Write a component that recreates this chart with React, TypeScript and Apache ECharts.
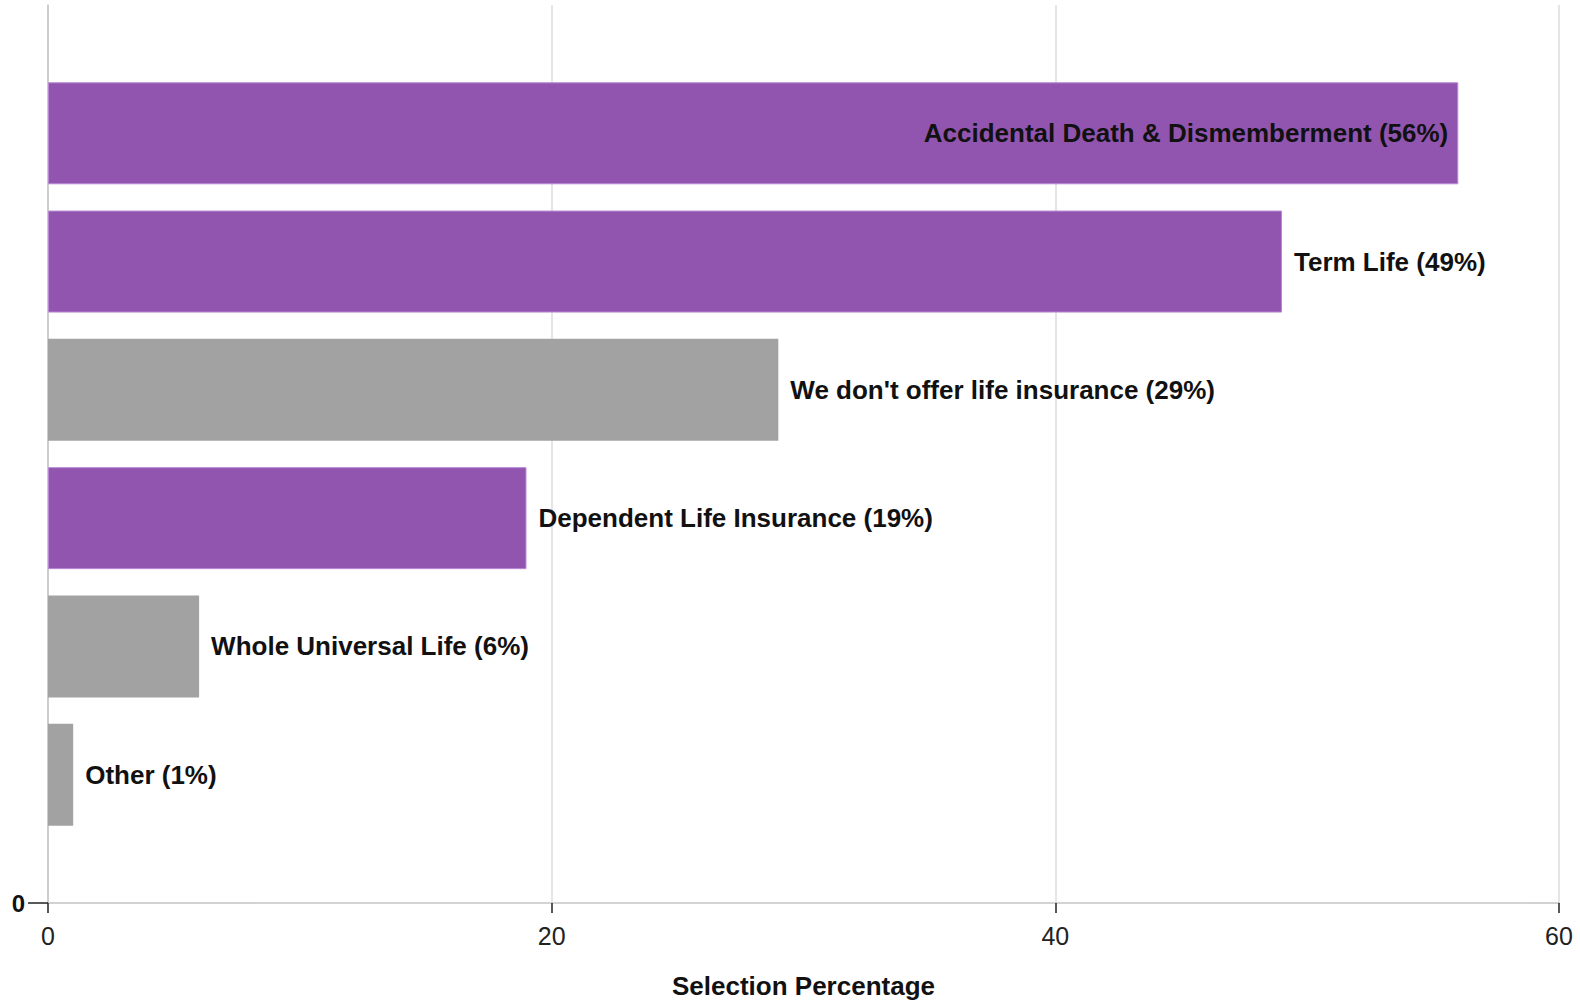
import React, { useEffect, useRef } from "react";
import * as echarts from "echarts";

const categories = [
  "Accidental Death & Dismemberment",
  "Term Life",
  "We don't offer life insurance",
  "Dependent Life Insurance",
  "Whole Universal Life",
  "Other",
];
const values = [56, 49, 29, 19, 6, 1];
const highlighted = [true, true, false, true, false, false];
const labelInside = [true, false, false, false, false, false];
// slot positions on the vertical axis (0 at bottom, 7 at top)
const slots = [6, 5, 4, 3, 2, 1];
const yTicks = ["0", "1", "2", "3", "4", "5", "6", "7"];
const xTicks = [0, 20, 40, 60];

const PURPLE = "#9155B0";
const GREY = "#A2A2A2";
const FONT = "'Liberation Sans', Arial, sans-serif";

export default function App() {
  const ref = useRef<HTMLDivElement>(null);
  useEffect(() => {
    if (!ref.current) return;
    const chart = echarts.init(ref.current, undefined, { renderer: "svg" });
    const data = categories.map((c, i) => ({
      name: c,
      value: [values[i], slots[i]],
      itemStyle: {
        color: highlighted[i] ? PURPLE : GREY,
        borderColor: highlighted[i] ? "#B888D4" : GREY,
        borderWidth: highlighted[i] ? 1 : 0,
      },
      label: {
        position: labelInside[i] ? "insideRight" : "right",
        distance: labelInside[i] ? 10 : 12,
      },
    }));
    chart.setOption({
      animation: false,
      backgroundColor: "#ffffff",
      textStyle: { fontFamily: FONT },
      grid: { left: 48, right: 21, top: 5, bottom: 100, containLabel: false },
      xAxis: {
        type: "value",
        min: 0,
        max: xTicks[xTicks.length - 1],
        interval: xTicks[1] - xTicks[0],
        name: "Selection Percentage",
        nameLocation: "middle",
        nameGap: 70,
        nameTextStyle: { fontFamily: FONT, fontSize: 26, fontWeight: "bold", color: "#111" },
        axisLine: { show: true, lineStyle: { color: "#c4c4c4", width: 1.5 } },
        axisTick: { show: true, length: 10, lineStyle: { color: "#222", width: 1.5 } },
        axisLabel: { fontFamily: FONT, fontSize: 25, color: "#222", margin: 20 },
        splitLine: { show: true, lineStyle: { color: "#dcdcdc", width: 1.5 } },
      },
      yAxis: {
        type: "category",
        data: yTicks,
        boundaryGap: false,
        axisLine: { show: true, lineStyle: { color: "#c4c4c4", width: 1.5 } },
        axisTick: {
          show: true,
          length: 20,
          interval: (idx: number) => idx === 0,
          lineStyle: { color: "#222", width: 1.5 },
        },
        axisLabel: {
          fontFamily: FONT,
          fontSize: 24,
          fontWeight: "bold",
          color: "#111",
          margin: 23,
          interval: 0,
          formatter: (v: string) => (v === "0" ? "0" : ""),
        },
        splitLine: { show: false },
      },
      series: [
        {
          type: "bar",
          barWidth: 102,
          encode: { x: 0, y: 1 },
          data,
          label: {
            show: true,
            fontFamily: FONT,
            fontSize: 26,
            fontWeight: "bold",
            color: "#111",
            formatter: (p: any) => `${p.name} (${p.value[0]}%)`,
          },
        },
      ],
    });
    return () => chart.dispose();
  }, []);
  return (
    <div
      ref={ref}
      style={{ position: "fixed", left: 0, top: 0, width: 1580, height: 1004 }}
    />
  );
}
